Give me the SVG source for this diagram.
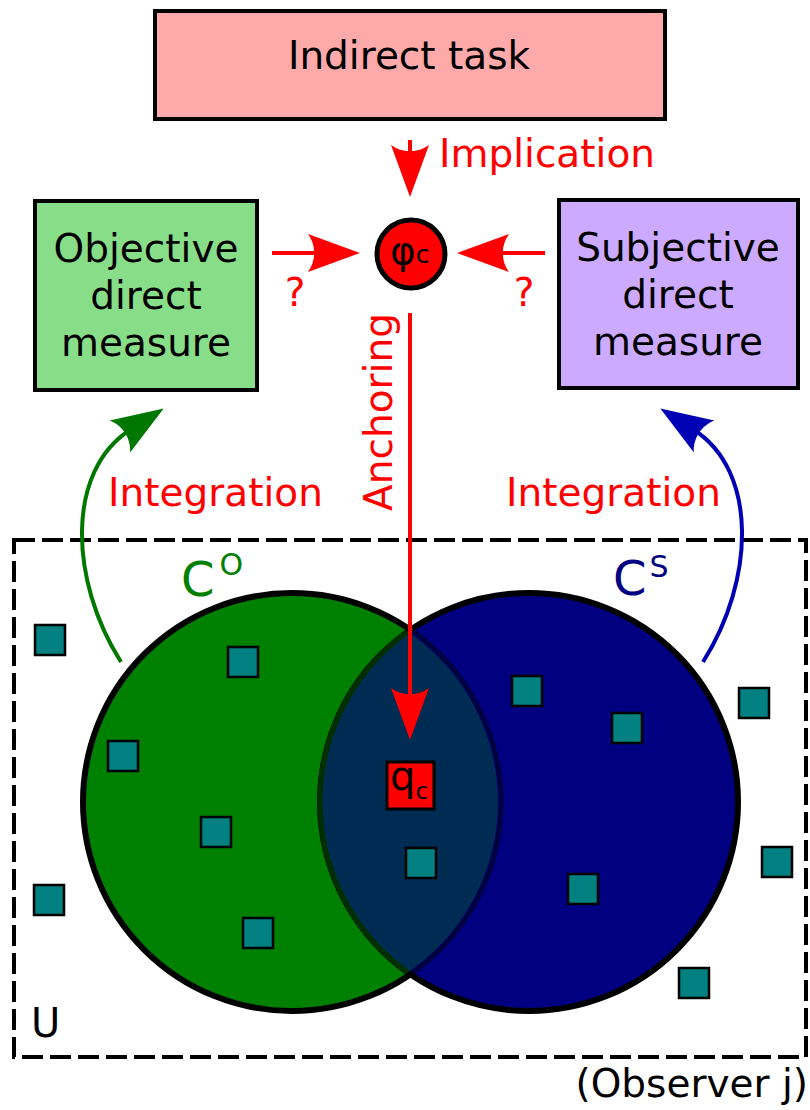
<svg xmlns="http://www.w3.org/2000/svg" width="810" height="1110" viewBox="0 0 810 1110">
<style>
text{font-family:"DejaVu Sans","Liberation Sans",sans-serif}
.big{font-size:39px}
.red{fill:#ff0000}
.box{stroke:#000;stroke-width:4}
.sq{fill:#008080;stroke:#000;stroke-width:2.5}
.rl{fill:none;stroke:#ff0000;stroke-width:4}
</style>
<defs>
<marker id="ahR" markerUnits="userSpaceOnUse" orient="auto" refX="-40" refY="0" markerWidth="60" markerHeight="40" overflow="visible">
<path d="M-52,19 L0,0 L-52,-19 C-43.7,-7.8 -43.7,7.7 -52,19 Z" fill="#ff0000"/>
</marker>
<marker id="ahG" markerUnits="userSpaceOnUse" orient="auto" refX="-40" refY="0" markerWidth="60" markerHeight="40" overflow="visible">
<path d="M-52,19 L0,0 L-52,-19 C-43.7,-7.8 -43.7,7.7 -52,19 Z" fill="#007800"/>
</marker>
<marker id="ahB" markerUnits="userSpaceOnUse" orient="auto" refX="-40" refY="0" markerWidth="60" markerHeight="40" overflow="visible">
<path d="M-52,19 L0,0 L-52,-19 C-43.7,-7.8 -43.7,7.7 -52,19 Z" fill="#0000b4"/>
</marker>
<clipPath id="inG"><circle cx="292" cy="802" r="206"/></clipPath>
<clipPath id="inB"><circle cx="529" cy="802" r="206"/></clipPath>
</defs>

<g id="universe">
<rect x="14" y="540" width="792" height="517" fill="none" stroke="#000" stroke-width="4" stroke-dasharray="21 7"/>
<text x="31" y="1037" style="font-size:40px">U</text>
<text x="808" y="1097" class="big" text-anchor="end">(Observer j)</text>
</g>

<g id="set-CO">
<circle cx="292" cy="802" r="209" fill="#008000" stroke="#000" stroke-width="6"/>
</g>
<g id="set-CS">
<circle cx="529" cy="802" r="209" fill="#000080" stroke="#000" stroke-width="6"/>
</g>
<g id="overlap">
<circle cx="529" cy="802" r="209" fill="#002b52" stroke="#003000" stroke-width="5" clip-path="url(#inG)"/>
<circle cx="292" cy="802" r="209" fill="none" stroke="#000040" stroke-width="5" clip-path="url(#inB)"/>
</g>

<g id="items">
<rect class="sq" x="35" y="625" width="30" height="30"/>
<rect class="sq" x="228" y="647" width="30" height="30"/>
<rect class="sq" x="108" y="741" width="30" height="30"/>
<rect class="sq" x="201" y="817" width="30" height="30"/>
<rect class="sq" x="34" y="885" width="30" height="30"/>
<rect class="sq" x="243" y="918" width="30" height="30"/>
<rect class="sq" x="406" y="848" width="30" height="30"/>
<rect class="sq" x="512" y="676" width="30" height="30"/>
<rect class="sq" x="612" y="713" width="30" height="30"/>
<rect class="sq" x="568" y="874" width="30" height="30"/>
<rect class="sq" x="739" y="688" width="30" height="30"/>
<rect class="sq" x="762" y="847" width="30" height="30"/>
<rect class="sq" x="679" y="968" width="30" height="30"/>
</g>

<g id="indirect-task">
<rect class="box" x="155" y="11" width="510" height="108" fill="#ffaaaa"/>
<text class="big" x="409" y="69" text-anchor="middle">Indirect task</text>
</g>

<g id="objective">
<rect class="box" x="35" y="201" width="222" height="189" fill="#88dd88"/>
<text class="big" text-anchor="middle"><tspan x="146" y="262">Objective</tspan><tspan x="146" y="309">direct</tspan><tspan x="146" y="356">measure</tspan></text>
</g>

<g id="subjective">
<rect class="box" x="559" y="200" width="239" height="188" fill="#ccaaff"/>
<text class="big" text-anchor="middle"><tspan x="678" y="261">Subjective</tspan><tspan x="678" y="308">direct</tspan><tspan x="678" y="355">measure</tspan></text>
</g>

<g id="connectors">
<path class="rl" d="M410,140 L410,157" marker-end="url(#ahR)"/>
<path class="rl" d="M272,253 L320,253" marker-end="url(#ahR)"/>
<path class="rl" d="M545,253 L497,253" marker-end="url(#ahR)"/>
<path class="rl" d="M410,313 L410,700" marker-end="url(#ahR)"/>
<path d="M121,662 C69,580 66,471 130,430" fill="none" stroke="#007800" stroke-width="4" marker-end="url(#ahG)"/>
<path d="M703,662 C755,580 758,471 694,430" fill="none" stroke="#0000b4" stroke-width="4" marker-end="url(#ahB)"/>
<text class="big red" x="439" y="167">Implication</text>
<text class="big red" x="295" y="306" text-anchor="middle">?</text>
<text class="big red" x="524" y="306" text-anchor="middle">?</text>
<text class="big red" transform="translate(392,412) rotate(-90)" text-anchor="middle">Anchoring</text>
<text class="big red" x="108" y="506">Integration</text>
<text class="big red" x="506" y="506">Integration</text>
</g>

<g id="phi-c">
<circle cx="411" cy="254" r="34" fill="#ff0000" stroke="#000" stroke-width="5"/>
<text x="390" y="264" style="font-size:39px">φ<tspan style="font-size:25px" dy="-1">c</tspan></text>
</g>

<g id="q-c">
<rect x="387" y="762" width="47" height="47" fill="#ff0000" stroke="#000" stroke-width="3"/>
<text x="390" y="790" style="font-size:40px">q<tspan style="font-size:23px" dy="9">c</tspan></text>
</g>

<g id="labels">
<text x="181" y="596" fill="#008000" style="font-size:48px">C<tspan style="font-size:30px" dx="5" dy="-21">O</tspan></text>
<text x="613" y="595" fill="#000080" style="font-size:48px">C<tspan style="font-size:30px" dx="3" dy="-18">S</tspan></text>
</g>
</svg>
